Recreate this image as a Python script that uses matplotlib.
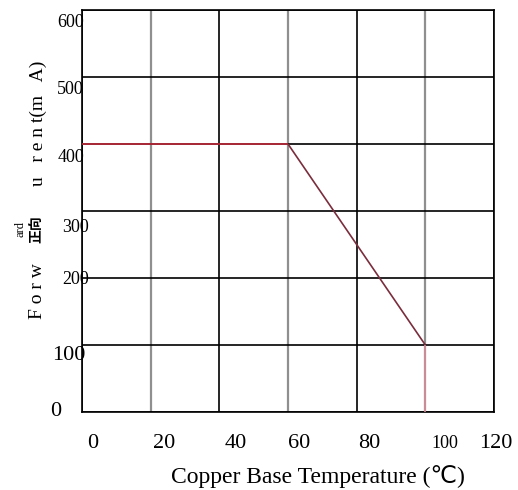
import matplotlib
matplotlib.use("Agg")
import matplotlib.pyplot as plt
from matplotlib.transforms import ScaledTranslation

# ---- data ----
temps = [0, 60, 100, 100]          # copper base temperature (°C)
currents = [400, 400, 100, 0]      # forward current (mA)
seg_colors = ["#c02a3c", "#7a2d3c", "#d98c99"]

x_ticks = [0, 20, 40, 60, 80, 100, 120]
x_labels = ["0", "20", "40", "60", "80", "100", "120"]
y_ticks = [0, 100, 200, 300, 400, 500, 600]
y_labels = ["0", "100", "200", "300", "400", "500", "600"]

SERIF = "Liberation Serif"

fig = plt.figure(figsize=(5.18, 4.90), dpi=100)
W, H = 518, 490
L, R, T, B = 82, 494, 10, 412
ax = fig.add_axes([L / W, 1 - B / H, (R - L) / W, (B - T) / H])
ax.set_xlim(0, 120)
ax.set_ylim(0, 600)

# grid
ax.set_xticks(x_ticks)
ax.set_yticks(y_ticks)
ax.grid(True, color="black", linewidth=1.2)
xgl = ax.xaxis.get_gridlines()
for i, gl in enumerate(xgl):
    if x_ticks[i] in (20, 60, 100):
        gl.set_color("#8f8f8f")
        gl.set_linewidth(1.6)
ax.set_axisbelow(True)

for s in ax.spines.values():
    s.set_color("black")
    s.set_linewidth(1.2)

# data line
for i in range(len(temps) - 1):
    ax.plot(temps[i:i + 2], currents[i:i + 2], color=seg_colors[i],
            linewidth=1.2, solid_capstyle="butt", zorder=3)

ax.tick_params(length=0, pad=0)

# y tick labels with individual offsets (px: dx right edge, dy down)
ax.set_yticklabels(y_labels)
y_off = {"0": (-21, -1, 16), "100": (3, 11, 16), "200": (7, 1, 13),
         "300": (7, 16, 13), "400": (2, 13, 13), "500": (2, 13, 13),
         "600": (2, 13, 13)}
for lab in ax.get_yticklabels():
    dx, dy, fs = y_off[lab.get_text()]
    lab.set_fontfamily(SERIF)
    lab.set_fontsize(fs)
    lab.set_horizontalalignment("right")
    lab.set_verticalalignment("center")
    lab.set_transform(lab.get_transform() +
                      ScaledTranslation(dx / 100, -dy / 100, fig.dpi_scale_trans))

# x tick labels
ax.set_xticklabels(x_labels)
x_off = {"0": (11, 16), "20": (13, 16), "40": (16, 16), "60": (11, 16),
         "80": (13, 16), "100": (20, 13), "120": (2, 16)}
for lab in ax.get_xticklabels():
    dx, fs = x_off[lab.get_text()]
    lab.set_fontfamily(SERIF)
    lab.set_fontsize(fs)
    lab.set_verticalalignment("center")
    lab.set_transform(lab.get_transform() +
                      ScaledTranslation(dx / 100, -(443 - B) / 100, fig.dpi_scale_trans))

# x label
ax.set_xlabel("Copper Base Temperature (\u2103)", fontfamily=[SERIF, "DejaVu Sans"],
              fontsize=17, labelpad=0)
ax.xaxis.set_label_coords((318 - L) / (R - L), 1 - (477 - T) / (B - T))
ax.xaxis.label.set_verticalalignment("center")

# y label pieces (rotated)
def ftxt(x, y, s, **kw):
    fig.text(x / W, 1 - y / H, s, rotation=90, ha="center", va="center", **kw)

ftxt(38, 123, "u   r e n t(m   A)", fontfamily=SERIF, fontsize=14)
ftxt(37, 229, "\u6b63\u5411", fontfamily=["Noto Sans CJK SC"], fontweight="bold", fontsize=10)
ftxt(21, 229, "ard", fontfamily=SERIF, fontsize=9)
ftxt(37, 291, "F o r w", fontfamily=SERIF, fontsize=14)

fig.savefig("out.png", dpi=100)
